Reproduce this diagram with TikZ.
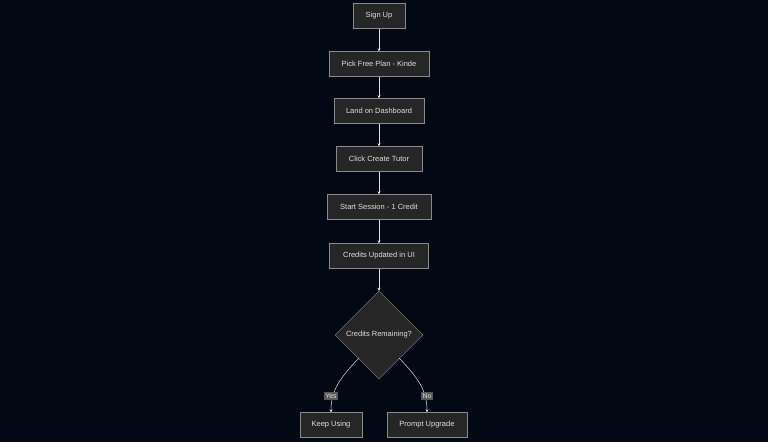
\documentclass[tikz,border=0pt]{standalone}
\usepackage{fontspec}
\setmainfont{Liberation Sans}
\usetikzlibrary{positioning}
\usetikzlibrary{shapes.geometric}
\usetikzlibrary{arrows.meta}
\definecolor{bgcol}{HTML}{020814}
\definecolor{boxfill}{HTML}{262626}
\definecolor{boxline}{HTML}{8A8A8A}
\definecolor{txtcol}{HTML}{E0E0E0}
\definecolor{lblfill}{HTML}{585858}

\begin{document}
\begin{tikzpicture}[x=1pt,y=-1pt,
stepbox/.style={rectangle, draw=boxline, fill=boxfill, text=txtcol, font=\fontsize{7.5}{8.5}\selectfont, minimum height=25pt, inner sep=0pt},
choice/.style={diamond, draw=boxline, fill=boxfill, text=txtcol, font=\fontsize{7.5}{8.5}\selectfont, minimum width=88pt, minimum height=88pt, inner sep=0pt},
edge/.style={draw=txtcol, line width=0.5pt, -{Stealth[length=3pt,width=3pt]}},
lbl/.style={fill=lblfill, text=txtcol, font=\fontsize{7}{8}\selectfont, inner sep=1.2pt}
]
\fill[bgcol] (0,0) rectangle (768,442);
%Nodes
\node[stepbox, minimum width=52pt]  (signup)  at (379,16)  {Sign Up};
\node[stepbox, minimum width=100pt] (plan)    at (379,64)  {Pick Free Plan - Kinde};
\node[stepbox, minimum width=90pt]  (dash)    at (379,111) {Land on Dashboard};
\node[stepbox, minimum width=86pt]  (tutor)   at (379,159) {Click Create Tutor};
\node[stepbox, minimum width=104pt] (session) at (379,207) {Start Session - 1 Credit};
\node[stepbox, minimum width=99pt]  (updated) at (379,256) {Credits Updated in UI};
\node[choice]                       (remain)  at (379,335) {Credits Remaining?};
\node[stepbox, minimum width=62pt]  (keep)    at (331,425) {Keep Using};
\node[stepbox, minimum width=80pt]  (upgrade) at (427,425) {Prompt Upgrade};
\coordinate (yesout) at (359,358);
\coordinate (noout)  at (399,358);

%Lines
\draw[edge] (signup) -- (plan);
\draw[edge] (plan) -- (dash);
\draw[edge] (dash) -- (tutor);
\draw[edge] (tutor) -- (session);
\draw[edge] (session) -- (updated);
\draw[edge] (updated) -- (remain);
\draw[edge] (yesout) .. controls (340,378) and (331,390) .. (keep.north);
\draw[edge] (noout) .. controls (418,378) and (427,390) .. (upgrade.north);

\node[lbl] (yes) at (331,396) {Yes};
\node[lbl] (no)  at (427,396) {No};
\end{tikzpicture}
\end{document}
